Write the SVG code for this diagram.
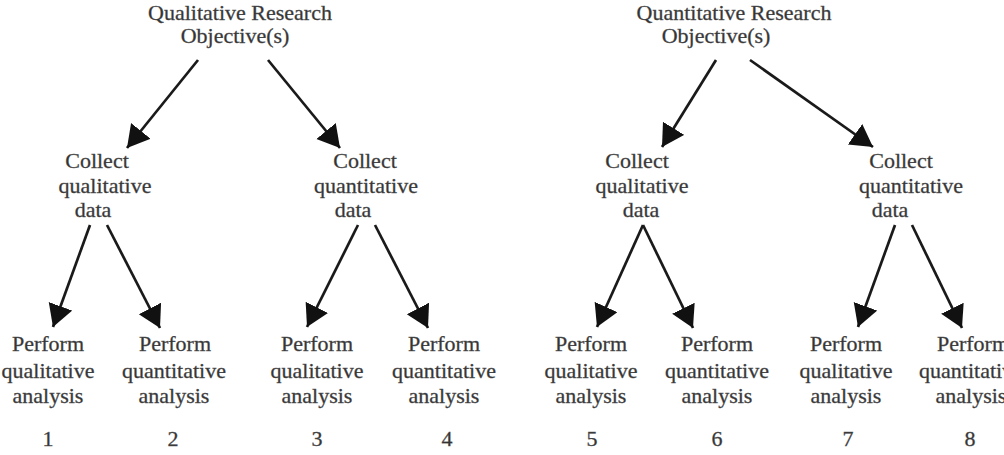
<svg xmlns="http://www.w3.org/2000/svg" width="1004" height="455" viewBox="0 0 1004 455">
<style>
text{font-family:"Liberation Serif","Times New Roman",serif;font-size:22px;fill:#333;stroke:#555;stroke-width:0.35;text-anchor:middle}
.c line{stroke:#1a1a1a;stroke-width:2.7;marker-end:url(#ah)}
</style>
<defs>
<marker id="ah" markerUnits="userSpaceOnUse" markerWidth="24" markerHeight="26" refX="22" refY="12.5" orient="auto" viewBox="0 0 24 26">
<path d="M0,0 L22,12.5 L0,25 z" fill="#111"/>
</marker>
</defs>
<rect width="1004" height="455" fill="#fff"/>
<g id="top1"><text x="240" y="20">Qualitative Research</text><text x="235" y="43">Objective(s)</text></g>
<g id="top2"><text x="734" y="20">Quantitative Research</text><text x="716" y="43">Objective(s)</text></g>
<g id="mid1"><text x="97" y="168">Collect</text><text x="105" y="193">qualitative</text><text x="93" y="217">data</text></g>
<g id="mid2"><text x="365" y="168">Collect</text><text x="366" y="193">quantitative</text><text x="353" y="217">data</text></g>
<g id="mid3"><text x="637" y="168">Collect</text><text x="642" y="193">qualitative</text><text x="641" y="217">data</text></g>
<g id="mid4"><text x="901" y="168">Collect</text><text x="911" y="193">quantitative</text><text x="890" y="217">data</text></g>
<g id="leaf1"><text x="48" y="351">Perform</text><text x="48" y="378">qualitative</text><text x="48" y="403">analysis</text><text x="48" y="446">1</text></g>
<g id="leaf2"><text x="175" y="351">Perform</text><text x="174" y="378">quantitative</text><text x="174" y="403">analysis</text><text x="173" y="446">2</text></g>
<g id="leaf3"><text x="317" y="351">Perform</text><text x="317" y="378">qualitative</text><text x="317" y="403">analysis</text><text x="317" y="446">3</text></g>
<g id="leaf4"><text x="444" y="351">Perform</text><text x="444" y="378">quantitative</text><text x="444" y="403">analysis</text><text x="447" y="446">4</text></g>
<g id="leaf5"><text x="591" y="351">Perform</text><text x="591" y="378">qualitative</text><text x="591" y="403">analysis</text><text x="592" y="446">5</text></g>
<g id="leaf6"><text x="717" y="351">Perform</text><text x="717" y="378">quantitative</text><text x="717" y="403">analysis</text><text x="717" y="446">6</text></g>
<g id="leaf7"><text x="846" y="351">Perform</text><text x="846" y="378">qualitative</text><text x="846" y="403">analysis</text><text x="848" y="446">7</text></g>
<g id="leaf8"><text x="973" y="351">Perform</text><text x="971" y="378">quantitative</text><text x="971" y="403">analysis</text><text x="970" y="446">8</text></g>
<g id="connectors" class="c">
<line x1="198" y1="60" x2="127" y2="148"/>
<line x1="268" y1="60" x2="340" y2="148"/>
<line x1="716" y1="60" x2="662" y2="147"/>
<line x1="750" y1="60" x2="873" y2="147"/>
<line x1="90" y1="225" x2="53" y2="327"/>
<line x1="107" y1="225" x2="160" y2="328"/>
<line x1="358" y1="225" x2="307" y2="327"/>
<line x1="375" y1="225" x2="428" y2="328"/>
<line x1="643" y1="225" x2="597" y2="327"/>
<line x1="643" y1="225" x2="693" y2="328"/>
<line x1="895" y1="225" x2="858" y2="327"/>
<line x1="912" y1="225" x2="962" y2="328"/>
</g>
</svg>
